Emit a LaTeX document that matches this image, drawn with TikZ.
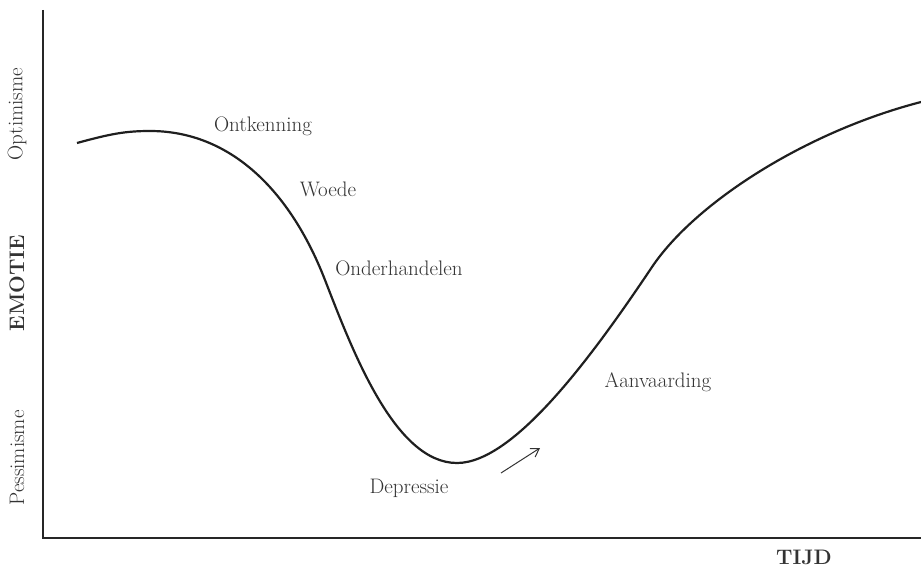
\documentclass[tikz,border=0pt]{standalone}
\usepackage{tikz}
\usetikzlibrary{arrows.meta}
\definecolor{inkgray}{HTML}{333333}
\tikzstyle{axis}=[draw=black!85, line width=2.4pt]
\tikzstyle{curve}=[draw=black!88, line width=2.2pt]
\tikzstyle{stage}=[text=inkgray, font=\fontsize{21}{24}\selectfont]
\tikzstyle{axislabel}=[text=inkgray, font=\fontsize{21}{24}\selectfont, rotate=90]

\begin{document}
\begin{tikzpicture}[x=1pt, y=-1pt]
	\useasboundingbox (0,0) rectangle (921,567);
	% axes
	\coordinate (top) at (43, 10);
	\coordinate (origin) at (43, 538);
	\coordinate (right) at (921, 538);
	\draw [style=axis] (top) -- (origin) -- (right);
	% curve
	\draw [style=curve] (77,143) .. controls (110,134) and (125,131) .. (150,131)
		.. controls (230,131) and (290,190) .. (325,280)
		.. controls (353,352) and (395,463) .. (457,463)
		.. controls (515,463) and (595,352) .. (652,267)
		.. controls (695,203) and (805,132) .. (921,102);
	% stage labels
	\node [style=stage] (ontkenning) at (263,126) {Ontkenning};
	\node [style=stage] (woede) at (328,189) {Woede};
	\node [style=stage] (onderhandelen) at (399,268) {Onderhandelen};
	\node [style=stage] (depressie) at (409,488) {Depressie};
	\node [style=stage] (aanvaarding) at (658,382) {Aanvaarding};
	% arrow
	\coordinate (a1) at (501,473);
	\coordinate (a2) at (540,448);
	\draw [draw=inkgray, line width=1pt, -{Straight Barb[length=8pt, width=10pt]}] (a1) -- (a2);
	% axis labels
	\node [style=axislabel] (optimisme) at (17,114) {Optimisme};
	\node [style=axislabel, font=\fontsize{21}{24}\selectfont\bfseries] (emotie) at (17,283) {EMOTIE};
	\node [style=axislabel] (pessimisme) at (17,458) {Pessimisme};
	\node [style=stage, font=\fontsize{21}{24}\selectfont\bfseries] (tijd) at (804,557) {TIJD};
\end{tikzpicture}
\end{document}
